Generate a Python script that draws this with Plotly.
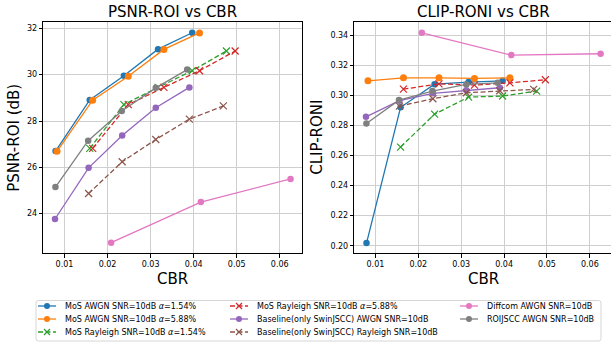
import plotly.graph_objects as go

W, H = 611, 343

# ---------------- data ----------------
mos_awgn_154_cbr = [0.00793, 0.01587, 0.02380, 0.03173, 0.03966]
mos_awgn_154_psnr = [26.70, 28.91, 29.95, 31.10, 31.81]
mos_awgn_154_clip = [0.2018, 0.2920, 0.3074, 0.3088, 0.3096]

mos_awgn_588_cbr = [0.00827, 0.01654, 0.02482, 0.03309, 0.04136]
mos_awgn_588_psnr = [26.69, 28.90, 29.93, 31.09, 31.80]
mos_awgn_588_clip = [0.3096, 0.3116, 0.3116, 0.3112, 0.3116]

mos_ray_154_cbr = [0.01587, 0.02380, 0.03173, 0.03966, 0.04760]
mos_ray_154_psnr = [26.82, 28.71, 29.45, 30.17, 31.02]
mos_ray_154_clip = [0.2656, 0.2875, 0.2988, 0.2995, 0.3028]

mos_ray_588_cbr = [0.01654, 0.02482, 0.03309, 0.04136, 0.04963]
mos_ray_588_psnr = [26.82, 28.71, 29.45, 30.17, 31.02]
mos_ray_588_clip = [0.3041, 0.3076, 0.3068, 0.3083, 0.3103]

base_awgn_cbr = [0.0078, 0.0156, 0.0234, 0.0312, 0.0390]
base_awgn_psnr = [23.77, 25.98, 27.37, 28.57, 29.45]
base_awgn_clip = [0.2857, 0.2964, 0.3013, 0.3033, 0.3050]

base_ray_cbr = [0.0156, 0.0234, 0.0312, 0.0390, 0.0469]
base_ray_psnr = [24.87, 26.24, 27.20, 28.08, 28.65]
base_ray_clip = [0.2928, 0.2977, 0.3017, 0.3030, 0.3039]

diffcom_cbr = [0.02083, 0.04167, 0.0625]
diffcom_psnr = [22.75, 24.50, 25.50]
diffcom_clip = [0.3415, 0.3267, 0.3276]

roijscc_cbr = [0.0079, 0.0155, 0.0233, 0.0312, 0.0385]
roijscc_psnr = [25.15, 27.15, 28.43, 29.43, 30.22]
roijscc_clip = [0.2813, 0.2968, 0.3028, 0.3072, 0.3083]

series_names = [
    "MoS AWGN SNR=10dB <i>α</i>=1.54%",
    "MoS AWGN SNR=10dB <i>α</i>=5.88%",
    "MoS Rayleigh SNR=10dB <i>α</i>=1.54%",
    "MoS Rayleigh SNR=10dB <i>α</i>=5.88%",
    "Baseline(only SwinJSCC) AWGN SNR=10dB",
    "Baseline(only SwinJSCC) Rayleigh SNR=10dB",
    "Diffcom AWGN SNR=10dB",
    "ROIJSCC AWGN SNR=10dB",
]
x_ticks = [0.01, 0.02, 0.03, 0.04, 0.05, 0.06]
psnr_ticks = [24, 26, 28, 30, 32]
clip_ticks = [0.20, 0.22, 0.24, 0.26, 0.28, 0.30, 0.32, 0.34]

# ---------------- styles ----------------
colors = ["#1f77b4", "#ff7f0e", "#2ca02c", "#d62728",
          "#9467bd", "#8c564b", "#e377c2", "#7f7f7f"]
dashed = [False, False, True, True, False, True, False, False]
FONT = "DejaVu Sans"
DASH = "5px,2.5px"

series = [
    (mos_awgn_154_cbr, mos_awgn_154_psnr, mos_awgn_154_clip),
    (mos_awgn_588_cbr, mos_awgn_588_psnr, mos_awgn_588_clip),
    (mos_ray_154_cbr, mos_ray_154_psnr, mos_ray_154_clip),
    (mos_ray_588_cbr, mos_ray_588_psnr, mos_ray_588_clip),
    (base_awgn_cbr, base_awgn_psnr, base_awgn_clip),
    (base_ray_cbr, base_ray_psnr, base_ray_clip),
    (diffcom_cbr, diffcom_psnr, diffcom_clip),
    (roijscc_cbr, roijscc_psnr, roijscc_clip),
]


def fx(px):
    return px / W


def fy(py):
    return 1 - py / H


fig = go.Figure()

for i, (xs, ps, cs) in enumerate(series):
    c = colors[i]
    if dashed[i]:
        marker = dict(symbol="x-thin", size=7, line=dict(width=1.2, color=c), color=c)
        line = dict(color=c, width=1.3, dash=DASH)
    else:
        marker = dict(symbol="circle", size=7 if i == 1 else 6.5, color=c, line=dict(width=0))
        line = dict(color=c, width=1.3)
    for ys, xa, ya in ((ps, "x", "y"), (cs, "x2", "y2")):
        fig.add_trace(go.Scatter(x=xs, y=ys, mode="lines+markers", marker=marker,
                                 line=line, xaxis=xa, yaxis=ya, showlegend=False,
                                 name=series_names[i], cliponaxis=False))

axis_common = dict(showline=True, mirror=True, linecolor="black", linewidth=1,
                   ticks="outside", ticklen=3.5, tickwidth=1, tickcolor="black",
                   showgrid=True, gridcolor="#cfcfcf", gridwidth=1, zeroline=False,
                   automargin=False,
                   tickfont=dict(family=FONT, size=8, color="black"))

top, bottom = 22.3, 253.3
fig.update_layout(
    template="none",
    width=W, height=H,
    margin=dict(l=0, r=0, t=0, b=0, pad=0, autoexpand=False),
    paper_bgcolor="white", plot_bgcolor="white",
    showlegend=False,
    hovermode=False,
    xaxis=dict(domain=[fx(43.3), fx(302.3)], range=[0.00508, 0.06523],
               tickvals=x_ticks, tickformat=".2f", anchor="y", **axis_common),
    yaxis=dict(domain=[fy(bottom), fy(top)], range=[22.29, 32.26],
               tickvals=psnr_ticks, anchor="x", **axis_common),
    xaxis2=dict(domain=[fx(354.3), 1.0], range=[0.00508, 0.06493],
                tickvals=x_ticks, tickformat=".2f", anchor="y2", **axis_common),
    yaxis2=dict(domain=[fy(bottom), fy(top)], range=[0.195, 0.3485],
                tickvals=clip_ticks, tickformat=".2f", anchor="x2", **axis_common),
)

annotations = []
shapes = []


def text_ann(txt, px, py, size, angle=0, xanchor="center"):
    annotations.append(dict(text=txt, x=fx(px), y=fy(py), xref="paper", yref="paper",
                            showarrow=False, xanchor=xanchor, yanchor="middle",
                            textangle=angle, font=dict(family=FONT, size=size, color="black")))


# titles and axis titles
text_ann("PSNR-ROI vs CBR", 172.8, 11.5, 15)
text_ann("CLIP-RONI vs CBR", 483.3, 11.5, 15)
text_ann("CBR", 172.8, 279, 15)
text_ann("CBR", 483.3, 279, 15)
text_ann("PSNR-ROI (dB)", 14, 137.8, 15, angle=-90)
text_ann("CLIP-RONI", 317, 137.8, 15, angle=-90)

# legend frame (rounded rectangle)
lx0, lx1, ly0, ly1, r = 36, 601, 300.5, 341, 2.5
path = (f"M{fx(lx0 + r)},{fy(ly0)} L{fx(lx1 - r)},{fy(ly0)} Q{fx(lx1)},{fy(ly0)} {fx(lx1)},{fy(ly0 + r)} "
        f"L{fx(lx1)},{fy(ly1 - r)} Q{fx(lx1)},{fy(ly1)} {fx(lx1 - r)},{fy(ly1)} "
        f"L{fx(lx0 + r)},{fy(ly1)} Q{fx(lx0)},{fy(ly1)} {fx(lx0)},{fy(ly1 - r)} "
        f"L{fx(lx0)},{fy(ly0 + r)} Q{fx(lx0)},{fy(ly0)} {fx(lx0 + r)},{fy(ly0)} Z")
shapes.append(dict(type="path", path=path, xref="paper", yref="paper",
                   line=dict(color="#d6d6d6", width=1), fillcolor="rgba(255,255,255,0.8)",
                   layer="above"))

col_x = [38, 230, 460]
row_y = [306, 319, 332]
for i, name in enumerate(series_names):
    col, row = divmod(i, 3)
    x0 = col_x[col]
    yy = row_y[row]
    c = colors[i]
    shapes.append(dict(type="line", xref="paper", yref="paper",
                       x0=fx(x0), x1=fx(x0 + 18), y0=fy(yy), y1=fy(yy),
                       line=dict(color=c, width=1.3, dash=DASH if dashed[i] else "solid"),
                       layer="above"))
    mx = fx(x0 + 9)
    my = fy(yy)
    if dashed[i]:
        shapes.append(dict(type="path", xref="paper", yref="paper",
                           xsizemode="pixel", ysizemode="pixel", xanchor=mx, yanchor=my,
                           path="M-3,-3L3,3M-3,3L3,-3", line=dict(color=c, width=1.2),
                           layer="above"))
    else:
        shapes.append(dict(type="circle", xref="paper", yref="paper",
                           xsizemode="pixel", ysizemode="pixel", xanchor=mx, yanchor=my,
                           x0=-3, x1=3, y0=-3, y1=3, fillcolor=c, line=dict(width=0),
                           layer="above"))
    text_ann(name, x0 + 24.5, yy, 8, xanchor="left")

fig.update_layout(annotations=annotations, shapes=shapes)
fig.write_html("out.html",
               config={"displayModeBar": False, "staticPlot": True},
               post_script="document.body.style.margin='0px';document.body.style.overflow='hidden';")
